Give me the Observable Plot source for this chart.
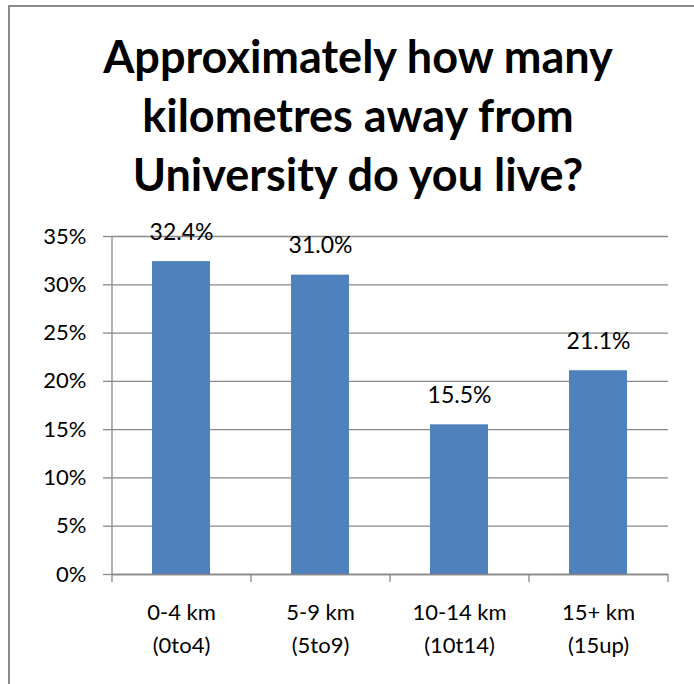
<!DOCTYPE html>
<html>
<head>
<meta charset="utf-8">
<script src="https://cdn.jsdelivr.net/npm/d3@7"></script>
<script src="https://cdn.jsdelivr.net/npm/@observablehq/plot@0.6"></script>
<style>
  html, body { margin: 0; padding: 0; background: #fff; overflow: hidden; }
  #wrap { position: relative; width: 694px; height: 684px; font-family: Lato, "Open Sans", sans-serif; }
  #border { position: absolute; left: 8px; top: 5px; right: -10px; bottom: -10px; border-top: 2px solid #8a8a8a; border-left: 2px solid #8a8a8a; }
  #title { position: absolute; left: 22px; width: 672px; top: 27px; text-align: center; font-weight: 700; font-size: 45px; line-height: 59px; color: #000; }
  #chart { position: absolute; left: 0; top: 0; }
</style>
</head>
<body>
<div id="wrap">
  <div id="border"></div>
  <div id="title">Approximately how many<br>kilometres away from<br>University do you live?</div>
  <div id="chart"></div>
</div>
<script>
const categories = ["0-4 km\n(0to4)", "5-9 km\n(5to9)", "10-14 km\n(10t14)", "15+ km\n(15up)"];
const values = [0.324, 0.310, 0.155, 0.211];
const yTicks = [0, 0.05, 0.10, 0.15, 0.20, 0.25, 0.30, 0.35];

const data = categories.map((c, i) => ({cat: c, value: values[i]}));

const W = 694, H = 684;
const mL = 112, mR = 26, mT = 236, mB = 110;
const step = (W - mL - mR) / categories.length;
const gray = "#888888";
const font = "Lato, 'Open Sans', sans-serif";

const plot = Plot.plot({
  width: W,
  height: H,
  marginLeft: mL,
  marginRight: mR,
  marginTop: mT,
  marginBottom: mB,
  style: {fontFamily: font, background: "transparent", overflow: "visible"},
  x: {domain: categories, paddingInner: 0.58, paddingOuter: 0.29, axis: null},
  y: {domain: [0, 0.35], axis: null},
  marks: [
    Plot.gridY(yTicks, {stroke: gray, strokeOpacity: 1, strokeWidth: 1.3}),
    Plot.axisY(yTicks, {label: null, tickSize: 9, tickPadding: 17, stroke: gray, strokeWidth: 1.3, tickFormat: d3.format(".0%"), fontSize: 22, fill: "#000"}),
    Plot.barY(data, {x: "cat", y: "value", fill: "#4F81BD"}),
    Plot.ruleY([0], {stroke: gray, strokeWidth: 1.3}),
    Plot.ruleX(categories.slice(0, 1), {x: d => d, dx: -step / 2, stroke: gray, strokeWidth: 1.3}),
    Plot.ruleX(categories, {x: d => d, dx: -step / 2, y1: 0, y2: 0, insetBottom: -8, stroke: gray, strokeWidth: 1.3}),
    Plot.ruleX(categories.slice(-1), {x: d => d, dx: step / 2, y1: 0, y2: 0, insetBottom: -8, stroke: gray, strokeWidth: 1.3}),
    Plot.text(data, {x: "cat", y: "value", text: d => d3.format(".1%")(d.value), lineAnchor: "bottom", dy: -22, fontSize: 23, fill: "#000"}),
    Plot.text(categories, {x: d => d, frameAnchor: "bottom", lineAnchor: "top", dy: 22, lineHeight: 1.5, fontSize: 22, fill: "#000"})
  ]
});
document.getElementById("chart").appendChild(plot);
</script>
</body>
</html>
